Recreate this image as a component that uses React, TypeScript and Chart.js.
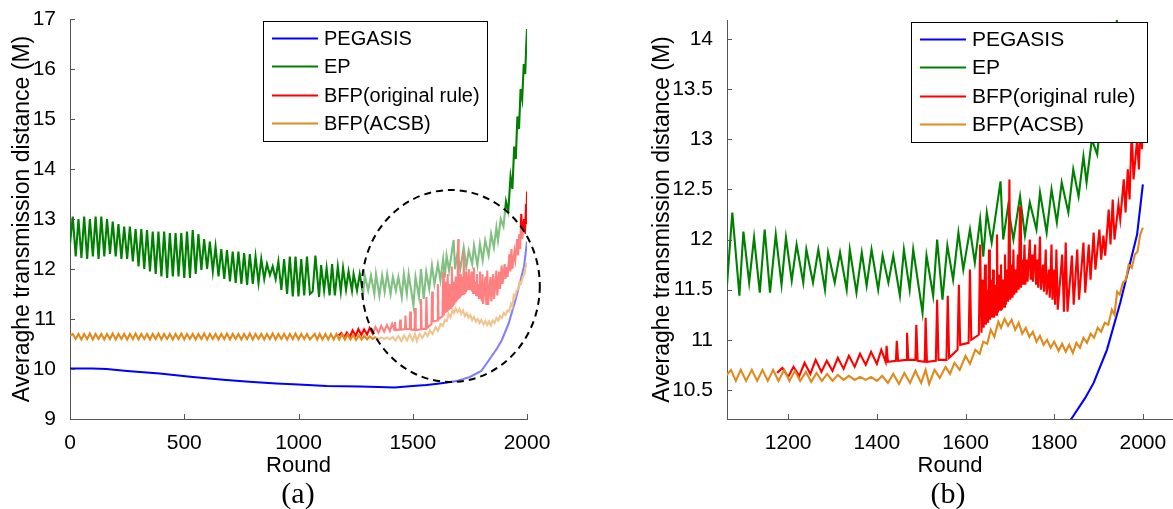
import React, { useEffect, useRef } from 'react';
import { Chart, registerables } from 'chart.js';

Chart.register(...registerables);

type Pt = [number, number];

// ---------------- data ----------------
const SERIES_NAMES = ['PEGASIS', 'EP', 'BFP(original rule)', 'BFP(ACSB)'];
const SERIES_COLORS = ['#0000ff', '#008000', '#ff0000', '#e08a1e'];
const X_LABEL = 'Round';
const Y_LABEL = 'Averaghe transmission distance (M)';

const X_TICKS_A = [0, 500, 1000, 1500, 2000];
const Y_TICKS_A = [9, 10, 11, 12, 13, 14, 15, 16, 17];
const X_TICKS_B = [1200, 1400, 1600, 1800, 2000];
const Y_TICKS_B = [10.5, 11, 11.5, 12, 12.5, 13, 13.5, 14];

// [round, distance]
const PEGASIS: Pt[] = [
  [0, 10.01], [100, 10.01], [160, 10.0], [250, 9.96], [392, 9.91], [537, 9.84], [683, 9.78],
  [800, 9.74], [903, 9.71], [1000, 9.69], [1123, 9.66], [1269, 9.65], [1350, 9.64], [1420, 9.63],
  [1500, 9.66], [1560, 9.68], [1600, 9.7], [1650, 9.73], [1700, 9.77], [1750, 9.84], [1800, 9.96],
  [1843, 10.24], [1870, 10.42], [1889, 10.57], [1919, 10.9], [1949, 11.37], [1972, 11.78],
  [1987, 12.05], [2000, 12.55],
];

const EP: Pt[] = [
  [0, 12.5], [12, 13.05], [25, 12.25], [37, 13.0], [50, 12.22], [62, 13.05], [75, 12.2], [87, 13.0],
  [100, 12.25], [112, 13.05], [125, 12.2], [137, 13.05], [150, 12.25], [162, 13.0], [175, 12.3],
  [187, 12.95], [200, 12.25], [212, 12.9], [225, 12.2], [237, 12.85], [250, 12.2], [262, 12.85],
  [275, 12.15], [287, 12.8], [300, 12.05], [312, 12.8], [325, 12.0], [337, 12.78], [350, 11.95],
  [362, 12.75], [375, 11.9], [387, 12.75], [400, 11.85], [412, 12.75], [425, 11.82], [437, 12.72],
  [450, 11.85], [462, 12.72], [475, 11.85], [487, 12.72], [500, 11.82], [512, 12.75], [525, 11.82],
  [537, 12.78], [550, 11.9], [562, 12.7], [575, 11.98], [587, 12.6], [600, 12.0], [612, 12.55],
  [625, 11.95], [637, 12.45], [650, 11.85], [662, 12.4], [675, 11.8], [687, 12.38], [700, 11.75],
  [712, 12.35], [725, 11.72], [737, 12.35], [750, 11.7], [762, 12.32], [775, 11.68], [787, 12.3],
  [800, 11.7], [812, 12.25], [825, 11.72], [837, 12.2], [850, 11.8], [862, 12.1], [875, 11.88],
  [887, 12.05], [900, 11.8], [912, 12.15], [925, 11.58], [937, 12.2], [950, 11.5], [962, 12.25],
  [975, 11.45], [987, 12.25], [1000, 11.45], [1012, 12.2], [1025, 11.47], [1037, 12.25], [1050, 11.5],
  [1062, 11.55], [1074, 12.27], [1090, 11.44], [1099, 12.08], [1112, 11.57], [1123, 12.02],
  [1136, 11.47], [1147, 12.1], [1159, 11.47], [1172, 12.05], [1185, 11.55], [1195, 12.02],
  [1208, 11.59], [1219, 11.95], [1234, 11.57], [1241, 11.9], [1256, 11.57], [1268, 11.9],
  [1283, 11.5], [1290, 11.87], [1305, 11.57], [1317, 11.87], [1332, 11.5], [1339, 11.9],
  [1354, 11.47], [1366, 11.87], [1377, 11.54], [1388, 11.9], [1403, 11.5], [1413, 11.84],
  [1426, 11.57], [1437, 11.84], [1452, 11.44], [1461, 11.9], [1474, 11.5], [1482, 11.9],
  [1503, 11.27], [1512, 11.84], [1527, 11.44], [1536, 12.0], [1548, 11.4], [1559, 11.94],
  [1572, 11.6], [1584, 12.07], [1595, 11.7], [1610, 12.1], [1621, 11.77], [1633, 12.2],
  [1640, 11.83], [1648, 12.27], [1659, 11.97], [1679, 12.58], [1685, 12.0], [1696, 12.33],
  [1708, 12.0], [1723, 12.43], [1734, 12.04], [1745, 12.37], [1760, 12.1], [1768, 12.47],
  [1783, 12.07], [1794, 12.5], [1806, 12.17], [1817, 12.57], [1832, 12.27], [1843, 12.7],
  [1855, 12.43], [1866, 12.83], [1873, 12.57], [1885, 13.0], [1897, 12.85], [1908, 13.35],
  [1918, 13.15], [1928, 13.85], [1936, 13.6], [1944, 14.45], [1951, 14.2], [1958, 15.05],
  [1965, 14.8], [1972, 15.6], [1979, 15.4], [1986, 16.1], [1992, 15.9], [1997, 16.5], [2000, 16.8],
];

const BFP_ORIGINAL: Pt[] = [
  [1175, 10.67], [1187, 10.72], [1200, 10.63], [1212, 10.73], [1225, 10.64], [1237, 10.77],
  [1250, 10.66], [1262, 10.8], [1275, 10.68], [1287, 10.79], [1300, 10.69], [1312, 10.82],
  [1325, 10.71], [1337, 10.84], [1350, 10.73], [1362, 10.86], [1375, 10.75], [1387, 10.88],
  [1400, 10.76], [1410, 10.9], [1420, 10.78], [1422, 10.94], [1425, 10.78], [1443, 10.79],
  [1445, 10.99], [1448, 10.79], [1466, 10.8], [1468, 11.07], [1471, 10.8], [1487, 10.8],
  [1489, 11.15], [1492, 10.79], [1508, 10.78], [1510, 11.22], [1513, 10.78], [1533, 10.79],
  [1536, 11.4], [1539, 10.8], [1557, 10.8], [1560, 11.44], [1563, 10.82], [1582, 10.9],
  [1585, 11.55], [1588, 10.95], [1607, 10.97], [1610, 11.7], [1613, 11.0], [1630, 11.05],
  [1633, 11.95], [1636, 11.07], [1639, 11.6], [1641, 11.12], [1644, 11.75], [1646, 11.15],
  [1649, 11.5], [1651, 11.17], [1653, 11.9], [1655, 11.2], [1658, 11.6], [1660, 11.22],
  [1662, 11.7], [1664, 11.22], [1667, 11.55], [1669, 11.25], [1671, 12.05], [1673, 11.27],
  [1676, 11.65], [1678, 11.3], [1680, 11.75], [1682, 11.3], [1685, 11.6], [1687, 11.33],
  [1689, 11.85], [1691, 11.35], [1694, 11.7], [1696, 11.38], [1699, 12.6], [1701, 11.4],
  [1704, 11.75], [1706, 11.42], [1708, 11.9], [1710, 11.45], [1713, 11.7], [1715, 11.47],
  [1718, 11.85], [1720, 11.5], [1723, 12.33], [1725, 11.52], [1728, 11.8], [1730, 11.55],
  [1733, 11.95], [1735, 11.55], [1738, 11.8], [1740, 11.58], [1745, 12.0], [1747, 11.6],
  [1750, 11.85], [1752, 11.58], [1757, 11.95], [1759, 11.55], [1762, 11.8], [1764, 11.52],
  [1768, 12.03], [1770, 11.5], [1775, 11.75], [1777, 11.48], [1781, 11.9], [1783, 11.45],
  [1788, 11.7], [1790, 11.42], [1794, 11.95], [1796, 11.4], [1800, 11.7], [1802, 11.35],
  [1805, 11.9], [1808, 11.3], [1818, 11.85], [1822, 11.28], [1826, 11.97], [1830, 11.28],
  [1840, 11.84], [1844, 11.35], [1852, 11.9], [1856, 11.4], [1866, 11.97], [1870, 11.47],
  [1878, 11.95], [1882, 11.6], [1889, 12.07], [1893, 11.7], [1902, 12.1], [1906, 11.8],
  [1911, 12.04], [1915, 11.84], [1923, 12.3], [1927, 11.95], [1932, 12.4], [1936, 12.0],
  [1945, 12.35], [1949, 12.2], [1957, 12.6], [1961, 12.27], [1966, 12.7], [1970, 12.4],
  [1975, 13.1], [1979, 12.6], [1987, 13.0], [1991, 12.7], [1996, 13.3], [1998, 12.9], [2000, 13.55],
];

const BFP_ACSB: Pt[] = [
  [0, 10.66], [12, 10.7], [25, 10.6], [37, 10.7], [50, 10.59], [62, 10.7], [75, 10.6], [87, 10.71],
  [100, 10.59], [112, 10.7], [125, 10.6], [137, 10.7], [150, 10.59], [162, 10.7], [175, 10.6],
  [187, 10.71], [200, 10.59], [212, 10.7], [225, 10.6], [237, 10.7], [250, 10.59], [262, 10.7],
  [275, 10.6], [287, 10.71], [300, 10.59], [312, 10.7], [325, 10.6], [337, 10.7], [350, 10.59],
  [362, 10.7], [375, 10.6], [387, 10.71], [400, 10.59], [412, 10.7], [425, 10.6], [437, 10.7],
  [450, 10.59], [462, 10.7], [475, 10.6], [487, 10.71], [500, 10.59], [512, 10.7], [525, 10.6],
  [537, 10.7], [550, 10.59], [562, 10.7], [575, 10.6], [587, 10.71], [600, 10.59], [612, 10.7],
  [625, 10.6], [637, 10.7], [650, 10.59], [662, 10.7], [675, 10.6], [687, 10.71], [700, 10.59],
  [712, 10.7], [725, 10.6], [737, 10.7], [750, 10.59], [762, 10.7], [775, 10.6], [787, 10.71],
  [800, 10.59], [812, 10.7], [825, 10.6], [837, 10.7], [850, 10.59], [862, 10.7], [875, 10.6],
  [887, 10.71], [900, 10.59], [912, 10.7], [925, 10.6], [937, 10.7], [950, 10.59], [962, 10.7],
  [975, 10.6], [987, 10.71], [1000, 10.59], [1012, 10.7], [1025, 10.6], [1037, 10.7], [1050, 10.59],
  [1071, 10.7], [1082, 10.59], [1093, 10.7], [1105, 10.59], [1118, 10.7], [1130, 10.59],
  [1142, 10.7], [1154, 10.59], [1166, 10.7], [1178, 10.59], [1191, 10.7], [1203, 10.59],
  [1215, 10.69], [1227, 10.59], [1240, 10.68], [1252, 10.58], [1264, 10.67], [1276, 10.59],
  [1288, 10.66], [1300, 10.59], [1312, 10.65], [1325, 10.6], [1337, 10.64], [1350, 10.6],
  [1362, 10.63], [1375, 10.6], [1387, 10.63], [1400, 10.59], [1412, 10.64], [1425, 10.57],
  [1437, 10.66], [1450, 10.56], [1462, 10.67], [1475, 10.57], [1487, 10.69], [1500, 10.57],
  [1510, 10.7], [1518, 10.56], [1530, 10.7], [1542, 10.62], [1555, 10.73], [1565, 10.66],
  [1575, 10.77], [1587, 10.7], [1600, 10.84], [1610, 10.76], [1622, 10.9], [1632, 10.86],
  [1640, 10.98], [1649, 10.96], [1657, 11.1], [1665, 11.03], [1674, 11.18], [1680, 11.12],
  [1688, 11.21], [1696, 11.14], [1704, 11.2], [1712, 11.1], [1720, 11.17], [1728, 11.06],
  [1736, 11.12], [1744, 11.03], [1752, 11.08], [1760, 10.98], [1768, 11.04], [1776, 10.95],
  [1784, 11.0], [1792, 10.92], [1800, 10.98], [1810, 10.89], [1818, 10.96], [1826, 10.88],
  [1834, 10.95], [1842, 10.87], [1850, 10.97], [1858, 10.92], [1866, 11.02], [1874, 10.97],
  [1882, 11.06], [1890, 11.02], [1898, 11.12], [1906, 11.08], [1914, 11.17], [1922, 11.15],
  [1930, 11.3], [1936, 11.25], [1942, 11.48], [1948, 11.45], [1955, 11.57], [1962, 11.6],
  [1968, 11.75], [1975, 11.72], [1982, 11.85], [1988, 11.88], [1994, 12.05], [2000, 12.12],
];

// zoomed region marked in panel (a): centre round / distance and half-axes
const MAGNIFIER_A = { cx: 1667, cy: 11.66, rx: 389, ry: 1.92 };

// ---------------- styling ----------------
const FONT = '"Liberation Sans", Arial, Helvetica, sans-serif';
const AXIS_COLOR = '#555555';

const magnifierPlugin = {
  id: 'magnifier',
  afterDatasetsDraw(chart: any, _a: any, opts: any) {
    if (!opts || !opts.enabled) return;
    const { ctx, scales } = chart;
    const x = scales.x, y = scales.y;
    const cx = x.getPixelForValue(opts.cx);
    const cy = y.getPixelForValue(opts.cy);
    const rx = Math.abs(x.getPixelForValue(opts.cx + opts.rx) - cx);
    const ry = Math.abs(y.getPixelForValue(opts.cy + opts.ry) - cy);
    ctx.save();
    ctx.beginPath();
    ctx.ellipse(cx, cy, rx, ry, 0, 0, Math.PI * 2);
    ctx.fillStyle = 'rgba(255,255,255,0.5)';
    ctx.fill();
    ctx.setLineDash([7, 5]);
    ctx.lineWidth = 2;
    ctx.strokeStyle = '#000';
    ctx.stroke();
    ctx.restore();
  },
};

const inwardTicksPlugin = {
  id: 'inwardTicks',
  afterDatasetsDraw(chart: any) {
    const { ctx, chartArea, scales } = chart;
    ctx.save();
    ctx.strokeStyle = AXIS_COLOR;
    ctx.lineWidth = 1;
    ctx.beginPath();
    scales.x.ticks.forEach((t: any) => {
      const px = Math.round(scales.x.getPixelForValue(t.value)) + 0.5;
      ctx.moveTo(px, chartArea.bottom);
      ctx.lineTo(px, chartArea.bottom - 5);
    });
    scales.y.ticks.forEach((t: any) => {
      const py = Math.round(scales.y.getPixelForValue(t.value)) + 0.5;
      ctx.moveTo(chartArea.left, py);
      ctx.lineTo(chartArea.left + 5, py);
    });
    ctx.stroke();
    ctx.restore();
  },
};

const boxLegendPlugin = {
  id: 'boxLegend',
  afterDraw(chart: any, _a: any, opts: any) {
    if (!opts || !opts.width) return;
    const { ctx } = chart;
    const { left, top, width, height, firstRow, rowGap, lineX0, lineX1, textX, fontSize } = opts;
    ctx.save();
    ctx.fillStyle = '#ffffff';
    ctx.fillRect(left, top, width, height);
    ctx.strokeStyle = '#000';
    ctx.lineWidth = 1;
    ctx.strokeRect(left + 0.5, top + 0.5, width, height);
    ctx.font = `${fontSize}px ${FONT}`;
    ctx.textBaseline = 'middle';
    chart.data.datasets.forEach((ds: any, i: number) => {
      const yy = Math.round(top + firstRow + i * rowGap) + 0.5;
      ctx.strokeStyle = ds.borderColor;
      ctx.lineWidth = 2.2;
      ctx.beginPath();
      ctx.moveTo(left + lineX0, yy);
      ctx.lineTo(left + lineX1, yy);
      ctx.stroke();
      ctx.fillStyle = '#000';
      ctx.fillText(ds.label, left + textX, yy + 1);
    });
    ctx.restore();
  },
};

interface PanelSpec {
  xMin: number; xMax: number; yMin: number; yMax: number;
  xTicks: number[]; yTicks: number[];
  yAxisWidth: number;
  padding: { left: number; right: number; top: number; bottom: number };
  legend: any;
  magnifier: any;
}

function buildDatasets() {
  const all = [PEGASIS, EP, BFP_ORIGINAL, BFP_ACSB];
  return all.map((pts, i) => ({
    label: SERIES_NAMES[i],
    data: pts.map(([x, y]) => ({ x, y })),
    borderColor: SERIES_COLORS[i],
    backgroundColor: SERIES_COLORS[i],
    borderWidth: 2.1,
    pointRadius: 0,
    pointHoverRadius: 0,
    tension: 0,
    fill: false,
    order: 4 - i,
  }));
}

function makeConfig(spec: PanelSpec): any {
  const tickFont = { family: FONT, size: 21 };
  return {
    type: 'line',
    data: { datasets: buildDatasets() },
    plugins: [magnifierPlugin, inwardTicksPlugin, boxLegendPlugin],
    options: {
      animation: false,
      responsive: false,
      maintainAspectRatio: false,
      events: [],
      layout: { padding: spec.padding },
      plugins: {
        legend: { display: false },
        tooltip: { enabled: false },
        title: { display: false },
        magnifier: spec.magnifier,
        boxLegend: spec.legend,
      },
      scales: {
        x: {
          type: 'linear',
          min: spec.xMin,
          max: spec.xMax,
          afterBuildTicks: (s: any) => { s.ticks = spec.xTicks.map((v) => ({ value: v })); },
          afterFit: (s: any) => { s.height = 90; },
          grid: { display: false },
          border: { display: true, color: AXIS_COLOR, width: 1 },
          ticks: {
            font: tickFont, color: '#000', padding: 4, maxRotation: 0, autoSkip: false,
            callback: (v: any) => String(v),
          },
          title: {
            display: true, text: X_LABEL, color: '#000',
            font: { family: FONT, size: 22 }, padding: { top: 0, bottom: 30 },
          },
        },
        y: {
          type: 'linear',
          min: spec.yMin,
          max: spec.yMax,
          afterBuildTicks: (s: any) => { s.ticks = spec.yTicks.map((v) => ({ value: v })); },
          afterFit: (s: any) => { s.width = spec.yAxisWidth; },
          grid: { display: false },
          border: { display: true, color: AXIS_COLOR, width: 1 },
          ticks: {
            font: tickFont, color: '#000', padding: 6, autoSkip: false,
            callback: (v: any) => String(v),
          },
          title: {
            display: true, text: Y_LABEL, color: '#000',
            font: { family: FONT, size: 23 }, padding: { top: 8.5, bottom: 0 },
          },
        },
      },
    },
  };
}

const SPEC_A: PanelSpec = {
  xMin: 0, xMax: 2000, yMin: 9, yMax: 17,
  xTicks: X_TICKS_A, yTicks: Y_TICKS_A,
  yAxisWidth: 70,
  padding: { left: 0, right: 33, top: 19, bottom: 0 },
  legend: { left: 263, top: 21, width: 224, height: 120, firstRow: 16.5, rowGap: 28.5, lineX0: 9, lineX1: 55, textX: 61, fontSize: 20 },
  magnifier: { enabled: true, ...MAGNIFIER_A },
};

const SPEC_B: PanelSpec = {
  xMin: 1062, xMax: 2068, yMin: 10.21, yMax: 14.19,
  xTicks: X_TICKS_B, yTicks: Y_TICKS_B,
  yAxisWidth: 87,
  padding: { left: 0, right: 0, top: 20, bottom: 0 },
  legend: { left: 271, top: 22, width: 236, height: 120, firstRow: 16.5, rowGap: 28.5, lineX0: 9, lineX1: 55, textX: 61, fontSize: 21 },
  magnifier: { enabled: false },
};

function Panel({ spec, left, width, caption, captionX }: { spec: PanelSpec; left: number; width: number; caption: string; captionX: number }) {
  const ref = useRef<HTMLCanvasElement | null>(null);
  useEffect(() => {
    if (!ref.current) return;
    const chart = new Chart(ref.current, makeConfig(spec));
    return () => chart.destroy();
  }, [spec]);
  return (
    <>
      <canvas
        ref={ref}
        width={width}
        height={509}
        style={{ position: 'absolute', left, top: 0, width, height: 509 }}
      />
      <div
        style={{
          position: 'absolute', left: captionX - 50, top: 476, width: 100, height: 34,
          lineHeight: '34px', textAlign: 'center', fontSize: 30, color: '#000',
          fontFamily: '"Liberation Serif", "Times New Roman", serif',
        }}
      >
        {caption}
      </div>
    </>
  );
}

export default function App() {
  return (
    <div style={{ position: 'fixed', left: 0, top: 0, width: 1173, height: 509, background: '#fff', overflow: 'hidden' }}>
      <Panel spec={SPEC_A} left={0} width={560} caption="(a)" captionX={298} />
      <Panel spec={SPEC_B} left={640} width={533} caption="(b)" captionX={948} />
    </div>
  );
}
